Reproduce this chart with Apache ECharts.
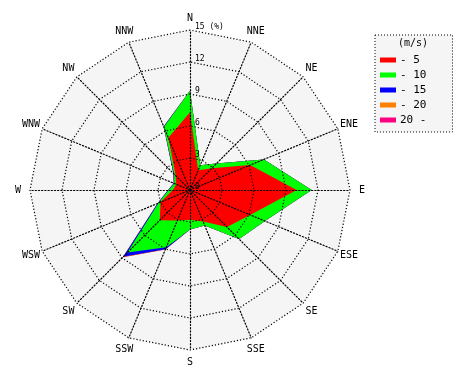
<!DOCTYPE html>
<html>
<head>
<meta charset="utf-8">
<script src="https://cdn.jsdelivr.net/npm/echarts@6/dist/echarts.min.js"></script>
<style>html,body{margin:0;padding:0;background:#fff}#c{width:470px;height:380px}</style>
</head>
<body>
<div id="c"></div>
<script>
// Directions, clockwise from north
var directions = ['N','NNE','NE','ENE','E','ESE','SE','SSE','S','SSW','SW','WSW','W','WNW','NW','NNW'];
// Frequency (%) per wind-speed class, in the order of `directions`
var class5  = [7.3, 2.0, 2.9, 6.1, 10.0, 6.1, 4.9, 3.2, 2.8, 3.1, 4.0, 3.0, 1.6, 1.4, 1.9, 5.3];
var class10 = [2.0, 0.5, 0.6, 1.4, 1.4, 1.5, 1.6, 0.4, 0.9, 2.7, 4.3, 0.2, 0.4, 0.2, 0.2, 1.1];
var class15 = [0, 0, 0, 0, 0, 0, 0, 0, 0, 0.2, 0.55, 0.1, 0.05, 0.05, 0.1, 0.05];
var class20 = [0, 0, 0, 0, 0, 0, 0, 0, 0, 0.05, 0.05, 0, 0, 0, 0, 0];
var class20p = [0, 0, 0, 0, 0, 0, 0, 0, 0, 0, 0, 0, 0, 0, 0, 0];
var classNames = ['- 5', '- 10', '- 15', '- 20', '20 -'];
var classColors = ['#ff0000', '#00ff00', '#0000ff', '#ff8000', '#ff0080'];
var radiusTicks = [0, 3, 6, 9, 12, 15];
var maxValue = 15;

var classes = [class5, class10, class15, class20, class20p];
// cumulative sums (stacked)
var cumulative = [];
var running = directions.map(function(){return 0;});
classes.forEach(function(arr){
  running = running.map(function(v,i){return +(v + arr[i]).toFixed(3);});
  cumulative.push(running.slice());
});
// radar places indicators counter-clockwise; reorder so they appear clockwise
var order = [0];
for (var k = directions.length - 1; k >= 1; k--) order.push(k);

var font = 'DejaVu Sans Mono';
function makeIndicators(withLabel) {
  return order.map(function(i, j){
    var ind = {name: directions[i], min: 0, max: maxValue};
    if (withLabel && j === 0) ind.axisLabel = {show: true};
    return ind;
  });
}

var series = [];
for (var s = classes.length - 1; s >= 0; s--) {
  series.push({
    type: 'radar',
    radarIndex: 0,
    name: classNames[s],
    symbol: 'none',
    silent: true,
    z: 2 + (classes.length - 1 - s),
    itemStyle: {color: classColors[s]},
    lineStyle: {width: 0, color: classColors[s]},
    areaStyle: {color: classColors[s], opacity: 1},
    data: [{value: order.map(function(i){return cumulative[s][i];}), name: classNames[s]}]
  });
}

var dotted = {color: '#000', width: 1.2, type: [1.2, 2]};
var radarBase = {
  center: [190, 190],
  radius: 160,
  startAngle: 90,
  shape: 'polygon',
  splitNumber: 5
};

var chart = echarts.init(document.getElementById('c'), null, {renderer: 'canvas'});
chart.setOption({
  animation: false,
  backgroundColor: '#ffffff',
  title: {
    text: '(m/s)', left: 398, top: 38, padding: 0,
    textStyle: {fontFamily: font, fontSize: 10, fontWeight: 'normal', color: '#000'},
    z: 20
  },
  legend: {
    data: classNames,
    orient: 'vertical',
    left: 375, top: 35,
    padding: [19, 26, 6, 5],
    itemGap: 3,
    itemWidth: 16, itemHeight: 5,
    icon: 'rect',
    backgroundColor: '#f5f5f5',
    borderColor: '#000', borderWidth: 1, borderType: [1, 2],
    textStyle: {fontFamily: font, fontSize: 11, lineHeight: 12, color: '#000', padding: [0,0,0,-1]},
    selectedMode: false
  },
  radar: [
    Object.assign({}, radarBase, {
      z: 0,
      indicator: makeIndicators(false),
      axisName: {show: false},
      axisLine: {show: false},
      splitLine: {show: false},
      splitArea: {show: true, areaStyle: {color: ['#f5f5f5']}},
      axisTick: {show: false},
      axisLabel: {show: false}
    }),
    Object.assign({}, radarBase, {
      z: 10,
      indicator: makeIndicators(true),
      axisName: {color: '#000', fontFamily: font, fontSize: 10, align: 'center', verticalAlign: 'middle', padding: [7, 0, 0, 0]},
      nameGap: 12,
      axisLine: {show: true, lineStyle: dotted},
      splitLine: {show: true, lineStyle: dotted},
      splitArea: {show: false},
      axisTick: {show: false},
      axisLabel: {
        show: false, color: '#000', fontFamily: font, fontSize: 8, margin: -5,
        align: 'left', verticalAlign: 'bottom', lineHeight: 6,
        formatter: function(v){ return v === maxValue ? v + ' (%)' : String(v); }
      }
    })
  ],
  series: series
});
</script>
</body>
</html>
